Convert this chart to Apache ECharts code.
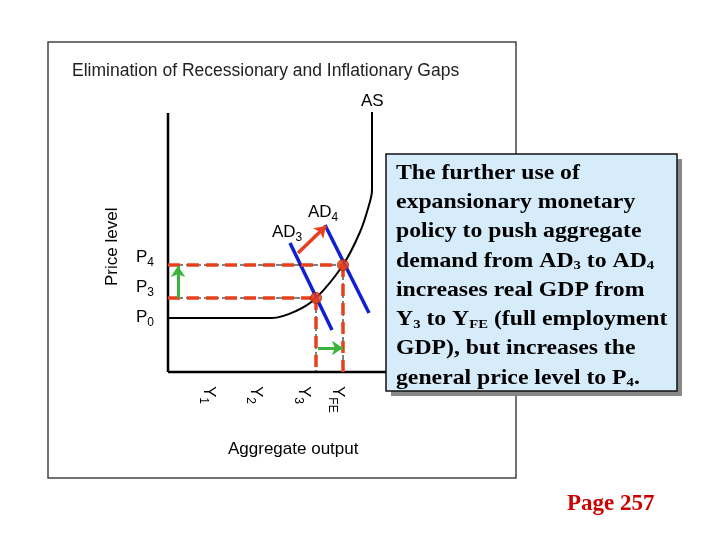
<!DOCTYPE html>
<html><head><meta charset="utf-8">
<script src="https://cdn.jsdelivr.net/npm/echarts@6/dist/echarts.min.js"></script>
<style>body{margin:0}#c{width:720px;height:540px}</style></head>
<body><div id="c"></div>
<script>
var chart = echarts.init(document.getElementById('c'));

// curve points (x = output, y = price, in picture units)
var asCurve = [[168,318],[272,318],[296,311],[316,298],[343,265],[360,232],[369,205],[372,190],[372,112]];
var ad3 = [[290,243],[332,330]];
var ad4 = [[325,225],[369,313]];
var eq = [[316,298],[343,265]];
var axisX = [[168,372],[392,372]];
var axisY = [[168,113],[168,372]];
var pLevels = [298,265];
var yMarks = [316,343];

var dashStyle = {color:'#e8401c', width:3.5, type:[12,7]};
var thinDash = {color:'#000', width:1, type:[6,3]};

var txtLines = [
  '{b|The further use of}',
  '{b|expansionary monetary}',
  '{b|policy to push aggregate}',
  '{b|demand from AD}{s|3}{b| to AD}{s|4}',
  '{b|increases real GDP from}',
  '{b|Y}{s|3}{b| to Y}{s|FE}{b| (full employment}',
  '{b|GDP), but increases the}',
  '{b|general price level to P}{s|4}{b|.}'
];
var rich = {b:{fontFamily:'Liberation Serif',fontWeight:'bold',fontSize:21,color:'#000'},
            s:{fontFamily:'Liberation Serif',fontWeight:'bold',fontSize:13,color:'#000',verticalAlign:'bottom',padding:[9,0,0,0]}};
var subRich = {a:{fontSize:17,fontFamily:'Liberation Sans'},s:{fontSize:12,fontFamily:'Liberation Sans',padding:[12,0,0,0]}};
var graphics = [
  {type:'rect',shape:{x:48,y:42,width:468,height:436},style:{fill:'#fff',stroke:'#444',lineWidth:1.5},z:-10},
  {type:'text',x:72,y:62,style:{text:'Elimination of Recessionary and Inflationary Gaps',font:'17.5px Liberation Sans',fill:'#222'}},
  {type:'text',x:361,y:93,style:{text:'AS',font:'17px Liberation Sans',fill:'#000'}},
  {type:'text',x:272,y:220,style:{text:'{a|AD}{s|3}',rich:subRich}},
  {type:'text',x:308,y:200,style:{text:'{a|AD}{s|4}',rich:subRich}},
  {type:'text',x:136,y:245,style:{text:'{a|P}{s|4}',rich:subRich}},
  {type:'text',x:136,y:275,style:{text:'{a|P}{s|3}',rich:subRich}},
  {type:'text',x:136,y:305,style:{text:'{a|P}{s|0}',rich:subRich}},
  {type:'text',x:104,y:286,rotation:Math.PI/2,style:{text:'Price level',font:'17px Liberation Sans',fill:'#000'}},
  {type:'text',x:228,y:441,style:{text:'Aggregate output',font:'17px Liberation Sans',fill:'#000'}},
  {type:'rect',shape:{x:391,y:159,width:291,height:237},style:{fill:'#888'},z:5},
  {type:'rect',shape:{x:386,y:154,width:291,height:237},style:{fill:'#d6ecfa',stroke:'#111',lineWidth:1.5},z:6},
  {type:'text',x:567,y:493,style:{text:'Page 257',font:'bold 23px Liberation Serif',fill:'#cc0000'}}
];
var yl = [['1',221],['2',268],['3',316],['FE',350]];
yl.forEach(function(v){
  graphics.push({type:'text',x:v[1],y:386,rotation:-Math.PI/2,style:{text:'{a|Y}{s|'+v[0]+'}',rich:subRich}});
});
txtLines.forEach(function(t,i){
  graphics.push({type:'text',x:396,y:163+i*29.2,z:7,scaleX:1.13,style:{text:t,rich:rich}});
});

function seg(pts, style, z){ return {type:'line',data:pts,symbol:'none',lineStyle:style,z:z||2,silent:true}; }
var series = [
  seg(axisX,{color:'#000',width:2.5}), seg(axisY,{color:'#000',width:2.5}),
  {type:'line',data:asCurve,smooth:0.35,symbol:'none',lineStyle:{color:'#000',width:2},z:2},
  seg(ad3,{color:'#1020d0',width:3.5},3), seg(ad4,{color:'#1020d0',width:3.5},3),
  seg([[168,pLevels[1]],[yMarks[1],pLevels[1]]],thinDash,3), seg([[168,pLevels[1]],[yMarks[1],pLevels[1]]],dashStyle,4),
  seg([[168,pLevels[0]],[yMarks[0],pLevels[0]]],thinDash,3), seg([[168,pLevels[0]],[yMarks[0],pLevels[0]]],dashStyle,4),
  seg([[yMarks[0],pLevels[0]],[yMarks[0],372]],thinDash,3), seg([[yMarks[0],pLevels[0]],[yMarks[0],372]],dashStyle,4),
  seg([[yMarks[1],pLevels[1]],[yMarks[1],372]],thinDash,3), seg([[yMarks[1],pLevels[1]],[yMarks[1],372]],dashStyle,4),
  {type:'lines',coordinateSystem:'cartesian2d',symbol:['none','arrow'],symbolSize:11,z:5,
   data:[{coords:[[298,253],[326,226]],lineStyle:{color:'#e8401c',width:3.5,opacity:1}},
         {coords:[[178,298],[178,266]],lineStyle:{color:'#3cb33c',width:3,opacity:1}},
         {coords:[[318,348],[343,348]],lineStyle:{color:'#3cb33c',width:3,opacity:1}}]},
  {type:'scatter',data:eq,symbolSize:11,itemStyle:{color:'#e8401c',borderColor:'#a02000',borderWidth:1},z:6}
];

option = {
  animation:false,
  grid:{left:0,right:0,top:0,bottom:0},
  xAxis:{type:'value',min:0,max:720,show:false},
  yAxis:{type:'value',min:0,max:540,inverse:true,show:false},
  graphic:graphics,
  series:series
};
option && chart.setOption(option);
</script></body></html>
